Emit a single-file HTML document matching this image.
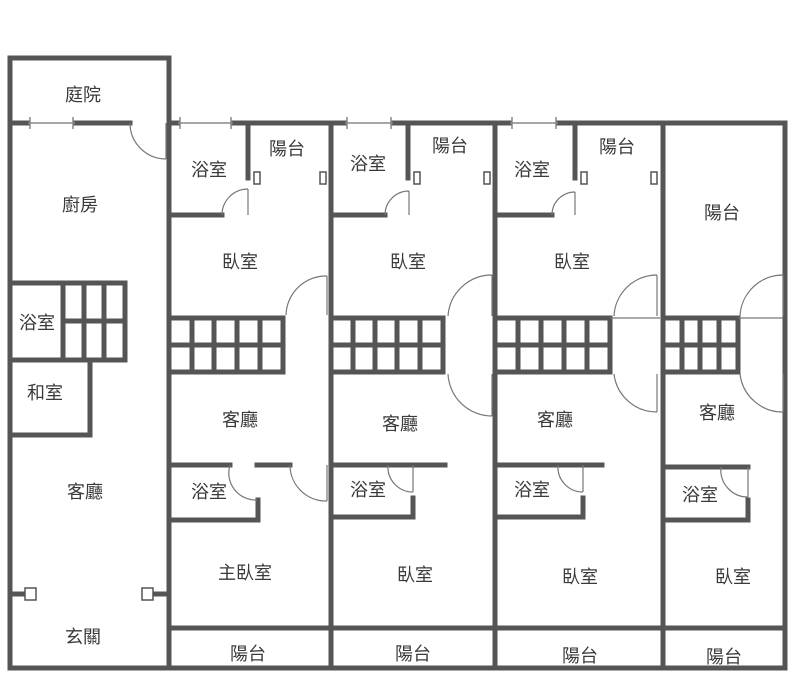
<!DOCTYPE html>
<html><head><meta charset="utf-8"><style>
html,body{margin:0;padding:0;background:#fff;width:800px;height:700px;overflow:hidden}
text{font-family:"Liberation Sans","Noto Sans CJK TC",sans-serif;font-size:18px;fill:#3a3a3a;text-anchor:middle;dominant-baseline:middle}
</style></head><body>
<svg width="800" height="700" viewBox="0 0 800 700" xmlns="http://www.w3.org/2000/svg">
<g stroke="#555" stroke-width="5" fill="none" stroke-linecap="square">
<path d="M10 58 H169 V668"/>
<path d="M10 58 V668 H785 V123"/>
<path d="M10 123 H28 M75 123 H130 M169 123 H178 M233 123 H345 M393 123 H510 M558 123 H785"/>
<path d="M331 123 V668 M495 123 V668 M663 123 V668"/>
<path d="M248 123 V178 M169 215 H222"/>
<path d="M408 123 V178 M331 215 H385"/>
<path d="M575 123 V178 M495 215 H552"/>
<path d="M10 283 H125 V360 H10 M63 283 V360 M84 283 V360 M104 283 V360 M63 321 H125"/>
<path d="M90 360 V435 H10"/>
<path d="M169 318 H283 V372 H169 M192 318 V372 M214 318 V372 M237 318 V372 M260 318 V372 M169 345 H283"/>
<path d="M331 318 H443 V372 H331 M353 318 V372 M375 318 V372 M397 318 V372 M420 318 V372 M331 345 H443"/>
<path d="M495 318 H610 V372 H495 M518 318 V372 M541 318 V372 M564 318 V372 M587 318 V372 M495 345 H610"/>
<path d="M663 318 H738 V372 H663 M682 318 V372 M700 318 V372 M719 318 V372 M663 345 H738"/>
<path d="M169 465 H230 M257 465 H290 M169 520 H258 V500"/>
<path d="M331 465 H445 M331 517 H413 V498"/>
<path d="M495 465 H602 M495 517 H583 V498"/>
<path d="M663 467 H748 M663 520 H748 V500"/>
<path d="M169 628 H785"/>
<path d="M10 594 H25 M154 594 H169"/>
</g>
<g fill="#fff" stroke="#555" stroke-width="1.5">
<rect x="25" y="588" width="11" height="12"/><rect x="142" y="588" width="11" height="12"/>
<rect x="254" y="172" width="6" height="12"/><rect x="320" y="172" width="6" height="12"/>
<rect x="414" y="172" width="6" height="12"/><rect x="484" y="172" width="6" height="12"/>
<rect x="581" y="172" width="6" height="12"/><rect x="651" y="172" width="6" height="12"/>
</g>
<g stroke="#888" stroke-width="1.5" fill="none">
<path d="M28 123 H75 M178 123 H233 M345 123 H393 M510 123 H558"/>
<path d="M30 117 V129 M73 117 V129 M180 117 V129 M231 117 V129 M347 117 V129 M391 117 V129 M512 117 V129 M556 117 V129"/>
</g>
<g stroke="#777" stroke-width="1.2" fill="none">
<path d="M130 123 A36 36 0 0 0 166 159 M166 123 V159"/>
<path d="M222 215 A26 26 0 0 1 248 189 M248 189 V215"/>
<path d="M385 215 A24 24 0 0 1 409 191 M409 191 V215"/>
<path d="M552 215 A23 23 0 0 1 575 192 M575 192 V215"/>
<path d="M286 315 A40 40 0 0 1 327 276 M327 276 V315"/>
<path d="M448 316 A44 44 0 0 1 492 275 M492 275 V316"/>
<path d="M448 374 A44 44 0 0 0 492 416 M492 374 V416"/>
<path d="M614 316 A43 43 0 0 1 657 275 M657 275 V316 M610 318 H660"/>
<path d="M614 374 A43 43 0 0 0 657 412 M657 374 V412"/>
<path d="M740 316 A43 43 0 0 1 783 275 M783 275 V316 M738 318 H783"/>
<path d="M740 374 A43 43 0 0 0 783 412 M783 374 V412"/>
<path d="M230 465 A27 27 0 0 0 257 500"/>
<path d="M290 465 A36 36 0 0 0 327 501 M327 465 V501"/>
<path d="M388 465 A25 25 0 0 0 413 492 M413 465 V492"/>
<path d="M558 465 A25 25 0 0 0 583 492 M583 465 V492"/>
<path d="M721 467 A27 27 0 0 0 748 497 M748 467 V497"/>
</g>
<g>
<text x="83" y="96">庭院</text><text x="80" y="206">廚房</text>
<text x="37" y="324">浴室</text><text x="45" y="394">和室</text>
<text x="85" y="493">客廳</text><text x="83" y="638">玄關</text>
<text x="209" y="171">浴室</text><text x="287" y="150">陽台</text>
<text x="240" y="263">臥室</text><text x="240" y="421">客廳</text>
<text x="209" y="493">浴室</text><text x="245" y="574">主臥室</text>
<text x="248" y="655">陽台</text>
<text x="368" y="165">浴室</text><text x="450" y="147">陽台</text>
<text x="408" y="263">臥室</text><text x="400" y="425">客廳</text>
<text x="368" y="491">浴室</text><text x="415" y="576">臥室</text>
<text x="413" y="655">陽台</text>
<text x="532" y="171">浴室</text><text x="617" y="148">陽台</text>
<text x="572" y="263">臥室</text><text x="555" y="421">客廳</text>
<text x="532" y="491">浴室</text><text x="580" y="578">臥室</text>
<text x="580" y="657">陽台</text>
<text x="722" y="214">陽台</text><text x="717" y="414">客廳</text>
<text x="700" y="496">浴室</text><text x="733" y="578">臥室</text>
<text x="724" y="658">陽台</text>
</g>
</svg>
</body></html>
